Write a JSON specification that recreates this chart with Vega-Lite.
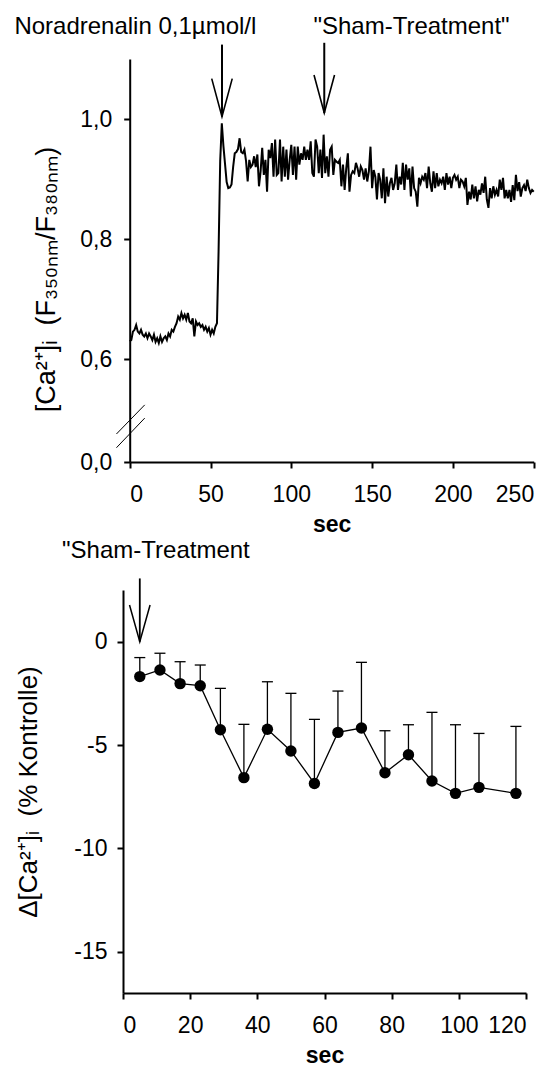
{
  "$schema": "https://vega.github.io/schema/vega-lite/v6.json",
  "padding": {"left": 14, "top": 14, "right": 0, "bottom": 0},
  "spacing": 3,
  "resolve": {"scale": {"x": "independent", "y": "independent"}},
  "config": {
    "view": {"stroke": null},
    "font": "Liberation Sans",
    "axis": {
      "grid": false,
      "domainColor": "black",
      "domainWidth": 2,
      "tickColor": "black",
      "tickWidth": 2,
      "tickSize": 6,
      "labelColor": "black",
      "labelFont": "Liberation Sans",
      "labelFontSize": 23,
      "labelPadding": 15,
      "titleColor": "black",
      "titleFont": "Liberation Sans",
      "titleFontSize": 26,
      "titleFontWeight": "normal"
    }
  },
  "datasets": {
    "trace": [
      {"t":0,"v":0.630},{"t":1,"v":0.632},{"t":2,"v":0.646},{"t":3,"v":0.649},{"t":4,"v":0.657},{"t":5,"v":0.646},{"t":6,"v":0.643},{"t":7,"v":0.649},{"t":8,"v":0.641},{"t":9,"v":0.638},
      {"t":10,"v":0.643},{"t":11,"v":0.635},{"t":12,"v":0.643},{"t":13,"v":0.638},{"t":14,"v":0.632},{"t":15,"v":0.641},{"t":16,"v":0.629},{"t":17,"v":0.635},{"t":18,"v":0.627},{"t":19,"v":0.638},
      {"t":20,"v":0.629},{"t":21,"v":0.635},{"t":22,"v":0.638},{"t":23,"v":0.632},{"t":24,"v":0.643},{"t":25,"v":0.638},{"t":26,"v":0.649},{"t":27,"v":0.646},{"t":28,"v":0.654},{"t":29,"v":0.660},
      {"t":30,"v":0.671},{"t":31,"v":0.666},{"t":32,"v":0.677},{"t":33,"v":0.668},{"t":34,"v":0.674},{"t":35,"v":0.666},{"t":36,"v":0.677},{"t":37,"v":0.663},{"t":38,"v":0.660},{"t":39,"v":0.668},
      {"t":40,"v":0.638},{"t":41,"v":0.663},{"t":42,"v":0.657},{"t":43,"v":0.660},{"t":44,"v":0.654},{"t":45,"v":0.657},{"t":46,"v":0.649},{"t":47,"v":0.654},{"t":48,"v":0.646},{"t":49,"v":0.652},
      {"t":50,"v":0.641},{"t":51,"v":0.649},{"t":52,"v":0.643},{"t":53,"v":0.654},{"t":54,"v":0.660},{"t":55,"v":0.780},{"t":56,"v":0.930},{"t":57,"v":0.993},{"t":58,"v":0.955},{"t":59,"v":0.925},
      {"t":60,"v":0.895},{"t":61,"v":0.885},{"t":62,"v":0.886},{"t":63,"v":0.891},{"t":64,"v":0.920},{"t":65,"v":0.943},{"t":66,"v":0.945},{"t":67,"v":0.950},{"t":68,"v":0.968},{"t":69,"v":0.945},
      {"t":70,"v":0.943},{"t":71,"v":0.949},{"t":72,"v":0.930},{"t":73,"v":0.896},{"t":74,"v":0.932},{"t":75,"v":0.920},{"t":76,"v":0.924},{"t":77,"v":0.938},{"t":78,"v":0.920},{"t":79,"v":0.941},
      {"t":80,"v":0.888},{"t":81,"v":0.913},{"t":82,"v":0.952},{"t":83,"v":0.907},{"t":84,"v":0.932},{"t":85,"v":0.879},{"t":86,"v":0.949},{"t":87,"v":0.935},{"t":88,"v":0.960},{"t":89,"v":0.904},
      {"t":90,"v":0.966},{"t":91,"v":0.907},{"t":92,"v":0.910},{"t":93,"v":0.966},{"t":94,"v":0.896},{"t":95,"v":0.954},{"t":96,"v":0.904},{"t":97,"v":0.949},{"t":98,"v":0.899},{"t":99,"v":0.932},
      {"t":100,"v":0.957},{"t":101,"v":0.907},{"t":102,"v":0.954},{"t":103,"v":0.899},{"t":104,"v":0.954},{"t":105,"v":0.924},{"t":106,"v":0.943},{"t":107,"v":0.932},{"t":108,"v":0.954},{"t":109,"v":0.932},
      {"t":110,"v":0.949},{"t":111,"v":0.932},{"t":112,"v":0.963},{"t":113,"v":0.910},{"t":114,"v":0.904},{"t":115,"v":0.966},{"t":116,"v":0.954},{"t":117,"v":0.910},{"t":118,"v":0.949},{"t":119,"v":0.902},
      {"t":120,"v":0.974},{"t":121,"v":0.910},{"t":122,"v":0.938},{"t":123,"v":0.904},{"t":124,"v":0.949},{"t":125,"v":0.954},{"t":126,"v":0.907},{"t":127,"v":0.932},{"t":128,"v":0.929},{"t":129,"v":0.927},
      {"t":130,"v":0.932},{"t":131,"v":0.888},{"t":132,"v":0.924},{"t":133,"v":0.882},{"t":134,"v":0.918},{"t":135,"v":0.943},{"t":136,"v":0.879},{"t":137,"v":0.907},{"t":138,"v":0.913},{"t":139,"v":0.910},
      {"t":140,"v":0.927},{"t":141,"v":0.918},{"t":142,"v":0.904},{"t":143,"v":0.921},{"t":144,"v":0.915},{"t":145,"v":0.899},{"t":146,"v":0.918},{"t":147,"v":0.896},{"t":148,"v":0.913},{"t":149,"v":0.954},
      {"t":150,"v":0.885},{"t":151,"v":0.915},{"t":152,"v":0.904},{"t":153,"v":0.866},{"t":154,"v":0.910},{"t":155,"v":0.899},{"t":156,"v":0.868},{"t":157,"v":0.918},{"t":158,"v":0.860},{"t":159,"v":0.904},
      {"t":160,"v":0.871},{"t":161,"v":0.893},{"t":162,"v":0.902},{"t":163,"v":0.882},{"t":164,"v":0.893},{"t":165,"v":0.924},{"t":166,"v":0.882},{"t":167,"v":0.904},{"t":168,"v":0.891},{"t":169,"v":0.927},
      {"t":170,"v":0.882},{"t":171,"v":0.924},{"t":172,"v":0.899},{"t":173,"v":0.918},{"t":174,"v":0.871},{"t":175,"v":0.921},{"t":176,"v":0.885},{"t":177,"v":0.879},{"t":178,"v":0.854},{"t":179,"v":0.902},
      {"t":180,"v":0.893},{"t":181,"v":0.904},{"t":182,"v":0.899},{"t":183,"v":0.910},{"t":184,"v":0.885},{"t":185,"v":0.921},{"t":186,"v":0.893},{"t":187,"v":0.879},{"t":188,"v":0.913},{"t":189,"v":0.885},
      {"t":190,"v":0.910},{"t":191,"v":0.888},{"t":192,"v":0.899},{"t":193,"v":0.893},{"t":194,"v":0.904},{"t":195,"v":0.882},{"t":196,"v":0.910},{"t":197,"v":0.891},{"t":198,"v":0.904},{"t":199,"v":0.885},
      {"t":200,"v":0.902},{"t":201,"v":0.907},{"t":202,"v":0.899},{"t":203,"v":0.904},{"t":204,"v":0.885},{"t":205,"v":0.899},{"t":206,"v":0.896},{"t":207,"v":0.888},{"t":208,"v":0.902},{"t":209,"v":0.857},
      {"t":210,"v":0.879},{"t":211,"v":0.866},{"t":212,"v":0.891},{"t":213,"v":0.868},{"t":214,"v":0.888},{"t":215,"v":0.863},{"t":216,"v":0.882},{"t":217,"v":0.874},{"t":218,"v":0.893},{"t":219,"v":0.877},
      {"t":220,"v":0.904},{"t":221,"v":0.866},{"t":222,"v":0.852},{"t":223,"v":0.885},{"t":224,"v":0.868},{"t":225,"v":0.888},{"t":226,"v":0.874},{"t":227,"v":0.882},{"t":228,"v":0.871},{"t":229,"v":0.899},
      {"t":230,"v":0.882},{"t":231,"v":0.902},{"t":232,"v":0.868},{"t":233,"v":0.882},{"t":234,"v":0.868},{"t":235,"v":0.882},{"t":236,"v":0.862},{"t":237,"v":0.890},{"t":238,"v":0.865},{"t":239,"v":0.907},
      {"t":240,"v":0.880},{"t":241,"v":0.895},{"t":242,"v":0.871},{"t":243,"v":0.885},{"t":244,"v":0.890},{"t":245,"v":0.880},{"t":246,"v":0.899},{"t":247,"v":0.885},{"t":248,"v":0.877},{"t":249,"v":0.882},
      {"t":250,"v":0.879}
    ],
    "arrowsTop": [
      {"t": 57.1, "top": 1.124, "tip": 1.004},
      {"t": 120.4, "top": 1.127, "tip": 1.010}
    ],
    "labelsTop": [
      {"t": 3.5, "y": 1.1417, "label": "Noradrenalin 0,1µmol/l"},
      {"t": 174.4, "y": 1.1417, "label": "\"Sham-Treatment\""}
    ],
    "breaks": [
      {"xa": -8.2, "ya": 0.328, "xb": 9.3, "yb": 0.524},
      {"xa": -8.2, "ya": 0.167, "xb": 9.3, "yb": 0.502}
    ],
    "sham": [
      {"s": 5, "m": -1.69, "hi": -0.77},
      {"s": 11, "m": -1.37, "hi": -0.56},
      {"s": 17, "m": -2.03, "hi": -0.97},
      {"s": 23, "m": -2.13, "hi": -1.13},
      {"s": 29, "m": -4.26, "hi": -2.26},
      {"s": 36, "m": -6.58, "hi": -4.0},
      {"s": 43, "m": -4.24, "hi": -1.94},
      {"s": 50, "m": -5.29, "hi": -2.5},
      {"s": 57, "m": -6.86, "hi": -3.76},
      {"s": 64, "m": -4.39, "hi": -2.39},
      {"s": 71, "m": -4.18, "hi": -1.0},
      {"s": 78, "m": -6.34, "hi": -4.31},
      {"s": 85, "m": -5.47, "hi": -4.02},
      {"s": 92, "m": -6.74, "hi": -3.42},
      {"s": 99, "m": -7.34, "hi": -4.02},
      {"s": 106, "m": -7.05, "hi": -4.44},
      {"s": 117, "m": -7.34, "hi": -4.1}
    ],
    "arrowBottom": [{"s": 5, "top": 3.06, "tip": 0}],
    "labelBottom": [{"s": 9.8, "y": 4.03, "label": "\"Sham-Treatment"}]
  },
  "vconcat": [
    {
      "width": 411,
      "height": 403,
      "layer": [
        {
          "data": {"name": "trace"},
          "mark": {"type": "line", "color": "black", "strokeWidth": 2},
          "encoding": {
            "x": {
              "field": "t", "type": "quantitative",
              "scale": {"domain": [0, 250], "range": [6.7, 410.7], "nice": false},
              "axis": {"values": [0, 50, 100, 150, 200, 250], "title": "sec", "titleFontWeight": "bold", "titleFontSize": 23, "titlePadding": 7}
            },
            "y": {
              "field": "v", "type": "quantitative",
              "scale": {"domain": [0, 0.5, 1.1], "range": [403, 360.3, 0], "nice": false, "zero": false},
              "axis": {
                "values": [0, 0.6, 0.8, 1.0],
                "labelExpr": "replace(format(datum.value, '.1f'), '.', ',')",
                "labelPadding": 12,
                "offset": -6.7,
                "title": "[Ca²⁺]ᵢ\u00a0\u00a0(F₃₅₀ₙₘ/F₃₈₀ₙₘ)",
                "titleFontSize": 27,
                "titlePadding": 19,
                "titleY": 220
              }
            }
          }
        },
        {
          "data": {"name": "breaks"},
          "mark": {"type": "rule", "color": "black", "strokeWidth": 1},
          "encoding": {
            "x": {"field": "xa", "type": "quantitative"},
            "x2": {"field": "xb"},
            "y": {"field": "ya", "type": "quantitative"},
            "y2": {"field": "yb"}
          }
        },
        {
          "data": {"name": "arrowsTop"},
          "mark": {"type": "rule", "color": "black", "strokeWidth": 2},
          "encoding": {
            "x": {"field": "t", "type": "quantitative"},
            "y": {"field": "top", "type": "quantitative"},
            "y2": {"field": "tip"}
          }
        },
        {
          "data": {"name": "arrowsTop"},
          "mark": {"type": "point", "shape": "M-0.27,-1L0,0L0.27,-1", "size": 5776, "filled": false, "stroke": "black", "strokeWidth": 1.6, "opacity": 1},
          "encoding": {
            "x": {"field": "t", "type": "quantitative"},
            "y": {"field": "tip", "type": "quantitative"}
          }
        },
        {
          "data": {"name": "labelsTop"},
          "mark": {"type": "text", "fontSize": 24, "font": "Liberation Sans", "color": "black", "align": "center", "baseline": "alphabetic"},
          "encoding": {
            "x": {"field": "t", "type": "quantitative"},
            "y": {"field": "y", "type": "quantitative"},
            "text": {"field": "label"}
          }
        }
      ]
    },
    {
      "width": 403,
      "height": 403,
      "layer": [
        {
          "data": {"name": "sham"},
          "mark": {"type": "rule", "color": "black", "strokeWidth": 1.3},
          "encoding": {
            "x": {
              "field": "s", "type": "quantitative",
              "scale": {"domain": [0, 120], "nice": false},
              "axis": {"values": [0, 20, 40, 60, 80, 100, 120], "title": "sec", "titleFontWeight": "bold", "titleFontSize": 23, "titlePadding": 7}
            },
            "y": {
              "field": "m", "type": "quantitative",
              "scale": {"domain": [-17, 2.5], "nice": false, "zero": false},
              "axis": {
                "values": [-15, -10, -5, 0],
                "labelExpr": "datum.value + ''",
                "labelPadding": 10,
                "title": "Δ[Ca²⁺]ᵢ\u00a0\u00a0(% Kontrolle)",
                "titlePadding": 32
              }
            },
            "y2": {"field": "hi"}
          }
        },
        {
          "data": {"name": "sham"},
          "mark": {"type": "tick", "orient": "horizontal", "color": "black", "size": 11, "thickness": 1.3, "opacity": 1},
          "encoding": {
            "x": {"field": "s", "type": "quantitative"},
            "y": {"field": "hi", "type": "quantitative"}
          }
        },
        {
          "data": {"name": "sham"},
          "mark": {"type": "line", "color": "black", "strokeWidth": 1.3},
          "encoding": {
            "x": {"field": "s", "type": "quantitative"},
            "y": {"field": "m", "type": "quantitative"}
          }
        },
        {
          "data": {"name": "sham"},
          "mark": {"type": "circle", "color": "black", "size": 130, "opacity": 1},
          "encoding": {
            "x": {"field": "s", "type": "quantitative"},
            "y": {"field": "m", "type": "quantitative"}
          }
        },
        {
          "data": {"name": "arrowBottom"},
          "mark": {"type": "rule", "color": "black", "strokeWidth": 1.8},
          "encoding": {
            "x": {"field": "s", "type": "quantitative"},
            "y": {"field": "top", "type": "quantitative"},
            "y2": {"field": "tip"}
          }
        },
        {
          "data": {"name": "arrowBottom"},
          "mark": {"type": "point", "shape": "M-0.28,-1L0,0L0.28,-1", "size": 5388, "filled": false, "stroke": "black", "strokeWidth": 1.5, "opacity": 1},
          "encoding": {
            "x": {"field": "s", "type": "quantitative"},
            "y": {"field": "tip", "type": "quantitative"}
          }
        },
        {
          "data": {"name": "labelBottom"},
          "mark": {"type": "text", "fontSize": 24, "font": "Liberation Sans", "color": "black", "align": "center", "baseline": "alphabetic"},
          "encoding": {
            "x": {"field": "s", "type": "quantitative"},
            "y": {"field": "y", "type": "quantitative"},
            "text": {"field": "label"}
          }
        }
      ]
    }
  ]
}
